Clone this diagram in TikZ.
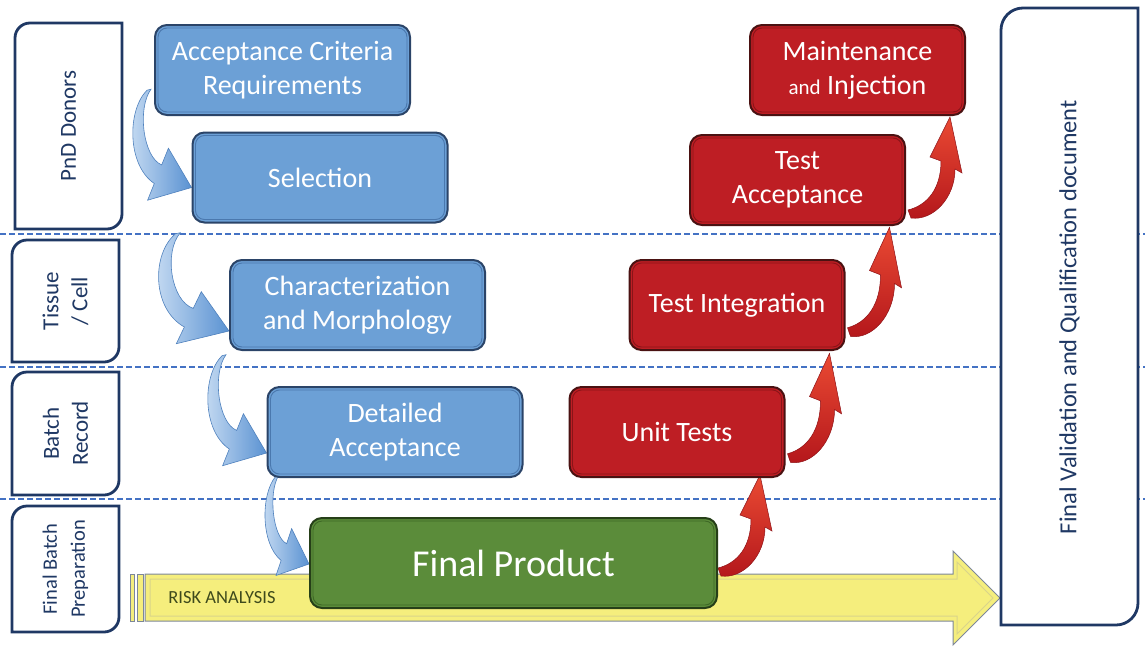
\documentclass[tikz,border=0pt]{standalone}
\usepackage{fontspec}
\setmainfont{Carlito}
\usetikzlibrary{calc}
\pgfdeclarelayer{back}
\pgfsetlayers{back,main}
\definecolor{navy}{HTML}{1F3864}
\definecolor{bfill}{HTML}{6CA0D6}
\definecolor{bline}{HTML}{2B4468}
\definecolor{brim}{HTML}{4A78AE}
\definecolor{rfill}{HTML}{BE1E24}
\definecolor{rline}{HTML}{4A1212}
\definecolor{rrim}{HTML}{8A1418}
\definecolor{gfill}{HTML}{5B8C3A}
\definecolor{gline}{HTML}{263F18}
\definecolor{grim}{HTML}{3E6826}
\definecolor{yfill}{HTML}{F5EE7D}
\definecolor{yline}{HTML}{7D8799}
\definecolor{yrim}{HTML}{D9D48A}
\definecolor{dashblue}{HTML}{4472C4}
\definecolor{risktext}{HTML}{3E4A1C}
\definecolor{barrL}{HTML}{C9DDF3}
\definecolor{barrR}{HTML}{5A92D2}
\definecolor{barrD}{HTML}{4F81BD}
\definecolor{rarrT}{HTML}{EA4A33}
\definecolor{rarrB}{HTML}{B3161B}
\newcommand\myframe[5]{%
  \path[lblframe] (#1,#4) -- (#1,#2+#5) arc[start angle=180,end angle=90,radius=#5pt]
    -- (#3,#2) -- (#3,#4-#5) arc[start angle=0,end angle=-90,radius=#5pt] -- cycle;}
\tikzset{
  stepbox/.style={rounded corners=12pt, line width=2pt, text=white, align=center,
    font=\fontsize{28}{34}\selectfont, inner sep=0pt},
  bluebox/.style={stepbox, fill=bfill, draw=bline, minimum width=255pt, minimum height=90pt},
  redbox/.style={stepbox, fill=rfill, draw=rline, minimum width=215pt, minimum height=90pt},
  greenbox/.style={stepbox, fill=gfill, draw=gline, minimum width=407pt, minimum height=90pt,
    font=\fontsize{38}{44}\selectfont},
  rim/.style={rounded corners=9pt, line width=0.9pt},
  lbl/.style={text=navy, align=center, rotate=90, font=\fontsize{23}{29}\selectfont},
  lblframe/.style={draw=navy, line width=2.8pt, fill=white},
  sepline/.style={draw=dashblue, line width=1.6pt, dash pattern=on 6pt off 3pt},
  bluearr/.pic={
    \path[left color=barrL, right color=barrR, draw=barrD, line width=0.6pt]
      (-44.5,-97.3) .. controls (-64.5,-77.3) and (-64.5,-22.3) .. (-37.2,-4)
      -- (-43.9,12.7) -- (0,0) -- (-23.1,-39.3) -- (-29.8,-22.6)
      .. controls (-48.4,-30) and (-54.5,-79.3) .. (-40.5,-98.3) -- cycle;
  },
  redarr/.pic={
    \path[top color=rarrT, bottom color=rarrB, draw=rarrB!80!black, line width=0.5pt]
      (0,-3) -- (3,5) .. controls (25,8) and (47,-15) .. (47,-44)
      -- (54,-40) -- (42,-96) -- (22,-56) -- (33,-52)
      .. controls (33,-25) and (20,-8) .. (0,-3) -- cycle;
  }
}
\begin{document}
\begin{tikzpicture}[x=1pt,y=-1pt]
\useasboundingbox (0,0) rectangle (1145,646);

% process boxes
\node[bluebox] (acr)  at (282.5,70)  {Acceptance Criteria\\Requirements};
\node[bluebox] (sel)  at (320,177.5) {Selection};
\node[bluebox] (char) at (357.5,305) {Characterization\\and Morphology};
\node[bluebox] (det)  at (395,432)   {Detailed\\Acceptance};
\node[greenbox] (fp)  at (513.5,563) {Final Product};
\node[redbox] (unit)  at (677,432)   {Unit Tests};
\node[redbox] (tint)  at (737,305)   {Test Integration};
\node[redbox] (tacc)  at (797.5,180) {Test\\Acceptance};
\node[redbox] (maint) at (857.5,70)  {Maintenance\\{\fontsize{21}{34}\selectfont and} Injection};

\foreach \n/\c in {acr/brim,sel/brim,char/brim,det/brim,fp/grim,unit/rrim,tint/rrim,tacc/rrim,maint/rrim}
  \draw[rim, draw=\c] ([shift={(4,4)}]\n.north west) rectangle ([shift={(-4,-4)}]\n.south east);

\begin{pgfonlayer}{back}
  % lane separators
  \coordinate (s1a) at (0,234);   \coordinate (s1b) at (1145,234);
  \coordinate (s2a) at (0,367);   \coordinate (s2b) at (1145,367);
  \coordinate (s3a) at (0,499);   \coordinate (s3b) at (1145,499);
  \draw[sepline] (s1a) -- (s1b);
  \draw[sepline] (s2a) -- (s2b);
  \draw[sepline] (s3a) -- (s3b);
  % risk analysis arrow
  \draw[draw=yline, fill=yfill, line width=0.8pt] (130,574) rectangle (134,621);
  \draw[draw=yline, fill=yfill, line width=0.8pt] (137,574) rectangle (143,621);
  \path[draw=yline, fill=yfill, line width=1pt] (145,574) -- (953,574) -- (953,551)
    -- (1000,598) -- (953,645) -- (953,621) -- (145,621) -- cycle;
  \draw[draw=yrim, line width=1pt] (150,579) -- (957,579) -- (957,562) -- (993,598)
    -- (957,634) -- (957,616) -- (150,616) -- cycle;
  \node[text=risktext, font=\fontsize{18.5}{22}\selectfont] (risk) at (222,598) {RISK ANALYSIS};
  % blue flow arrows
  \pic at ($(sel.west)+(0,10)$) {bluearr};
  \pic[xscale=1.2] at ($(char.west)+(0,26)$) {bluearr};
  \pic at ($(det.west)+(0,21)$) {bluearr};
  \pic[xscale=0.75, yscale=0.9] at ($(fp.west)+(0,1)$) {bluearr};
  % red flow arrows
  \pic at ($(fp.south east)+(0,-38)$) {redarr};
  \pic[yscale=1.08] at ($(unit.south east)+(2,-21)$) {redarr};
  \pic[yscale=1.08] at ($(tint.south east)+(2,-20)$) {redarr};
  \pic at ($(tacc.south east)+(2,-13)$) {redarr};
\end{pgfonlayer}

% lane labels
\myframe{15}{23}{122}{229}{15}
\node[lbl] (l1) at (68.5,126) {PnD Donors};
\myframe{12}{240}{119}{362}{15}
\node[lbl] (l2) at (65.5,301) {Tissue\\/ Cell};
\myframe{12}{372}{119}{495}{15}
\node[lbl] (l3) at (65.5,433.5) {Batch\\Record};
\myframe{12}{506}{119}{632}{15}
\node[lbl, font=\fontsize{20.5}{28}\selectfont] (l4) at (65.5,569) {Final Batch\\Preparation};

% final document
\myframe{1001}{8}{1138}{625}{22}
\node[lbl, font=\fontsize{24.5}{29}\selectfont] (doc) at (1069.5,317) {Final Validation and Qualification document};
\end{tikzpicture}
\end{document}
